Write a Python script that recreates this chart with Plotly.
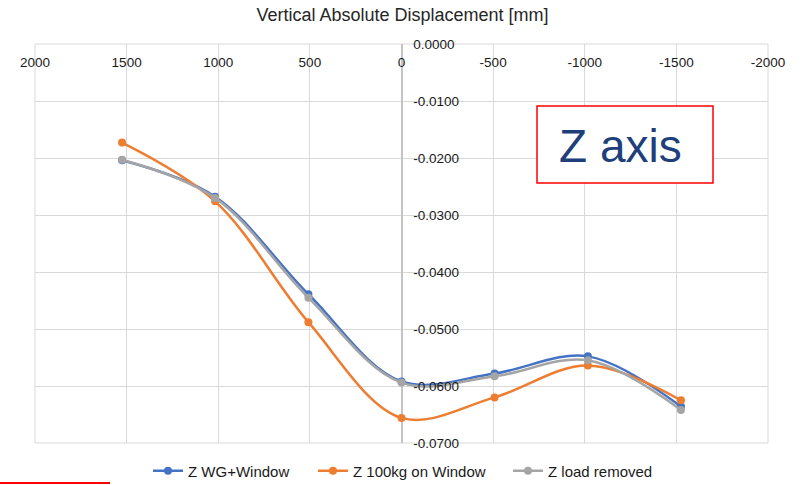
import plotly.graph_objects as go

# Data
positions = [1525, 1017, 508, 0, -508, -1017, -1525]
z_wg_window = [-0.0204, -0.0268, -0.0439, -0.0592, -0.0578, -0.0548, -0.0636]
z_100kg = [-0.0173, -0.0276, -0.0488, -0.0656, -0.0620, -0.0564, -0.0625]
z_load_removed = [-0.0203, -0.0270, -0.0445, -0.0594, -0.0583, -0.0555, -0.0642]

series_names = ["Z WG+Window", "Z 100kg on Window", "Z load removed"]
series_colors = ["#4472C4", "#ED7D31", "#A5A5A5"]

x_tickvals = [2000, 1500, 1000, 500, 0, -500, -1000, -1500, -2000]
x_ticktext = ["2000", "1500", "1000", "500", "0", "-500", "-1000", "-1500", "-2000"]
y_tickvals = [0, -0.01, -0.02, -0.03, -0.04, -0.05, -0.06, -0.07]
y_ticktext = ["0.0000", "-0.0100", "-0.0200", "-0.0300", "-0.0400", "-0.0500", "-0.0600", "-0.0700"]

W, H = 805, 485
L, R, T, B = 35, 37, 44, 42
pw, ph = W - L - R, H - T - B

def px(xp):
    return (xp - L) / pw

def py(yp):
    return (H - B - yp) / ph

legend_entry_widths = [120, 150, 110]

fig = go.Figure()
for name, vals, col, lw in zip(series_names, [z_wg_window, z_100kg, z_load_removed],
                               series_colors, legend_entry_widths):
    fig.add_trace(go.Scatter(
        x=positions, y=vals, name=name, mode="lines+markers", legendwidth=lw,
        line=dict(color=col, width=2.5, shape="spline", smoothing=1.0),
        marker=dict(color=col, size=8),
    ))

font_family = "Liberation Sans, Arial, sans-serif"
fig.update_layout(
    width=W, height=H,
    margin=dict(l=L, r=R, t=T, b=B, autoexpand=False),
    paper_bgcolor="white", plot_bgcolor="white",
    font=dict(family=font_family, size=13, color="#1a1a1a"),
    title=dict(text="Vertical Absolute Displacement [mm]", x=0.5, xanchor="center",
               y=1 - 15 / H, yanchor="middle", yref="container",
               font=dict(size=18, color="#262626")),
    showlegend=True,
    legend=dict(orientation="h", x=px(148), xanchor="left", y=py(471), yanchor="middle",
                font=dict(size=15, color="#1a1a1a"), itemwidth=30),
    xaxis=dict(range=[2000, -2000], anchor="free", position=1, side="bottom",
               tickvals=x_tickvals, ticktext=x_ticktext,
               showgrid=True, gridcolor="#d9d9d9", gridwidth=1,
               showline=False, zeroline=True, zerolinecolor="#c4c4c4", zerolinewidth=1.5,
               ticks="outside", ticklen=6, tickcolor="rgba(0,0,0,0)",
               tickfont=dict(size=13.5, color="#1a1a1a"), fixedrange=True),
    yaxis=dict(range=[-0.07, 0], tickvals=y_tickvals, ticktext=y_ticktext,
               anchor="free", position=0.5, side="right", showgrid=True,
               gridcolor="#d9d9d9", gridwidth=1, zeroline=False,
               showline=False, ticks="outside", ticklen=8,
               tickcolor="rgba(0,0,0,0)", tickfont=dict(size=13.5, color="#1a1a1a"),
               fixedrange=True),
)

# plot-area frame (edge gridlines / top axis line)
fig.add_shape(type="rect", xref="paper", yref="paper", x0=0, x1=1, y0=0, y1=1,
              line=dict(color="#d9d9d9", width=1), layer="below")

# "Z axis" label box
fig.add_shape(type="rect", xref="paper", yref="paper",
              x0=px(537), x1=px(713), y0=py(183), y1=py(106),
              line=dict(color="#FF0000", width=1.5), fillcolor="white", layer="above")
fig.add_annotation(text="Z axis", xref="paper", yref="paper", x=px(620), y=py(146),
                   xanchor="center", yanchor="middle", showarrow=False,
                   font=dict(size=46, color="#203F7A", family=font_family))

# red underline at bottom-left
fig.add_shape(type="line", xref="paper", yref="paper",
              x0=px(0), x1=px(110), y0=py(483), y1=py(483),
              line=dict(color="#FF0000", width=2))

fig.write_html("out.html")
